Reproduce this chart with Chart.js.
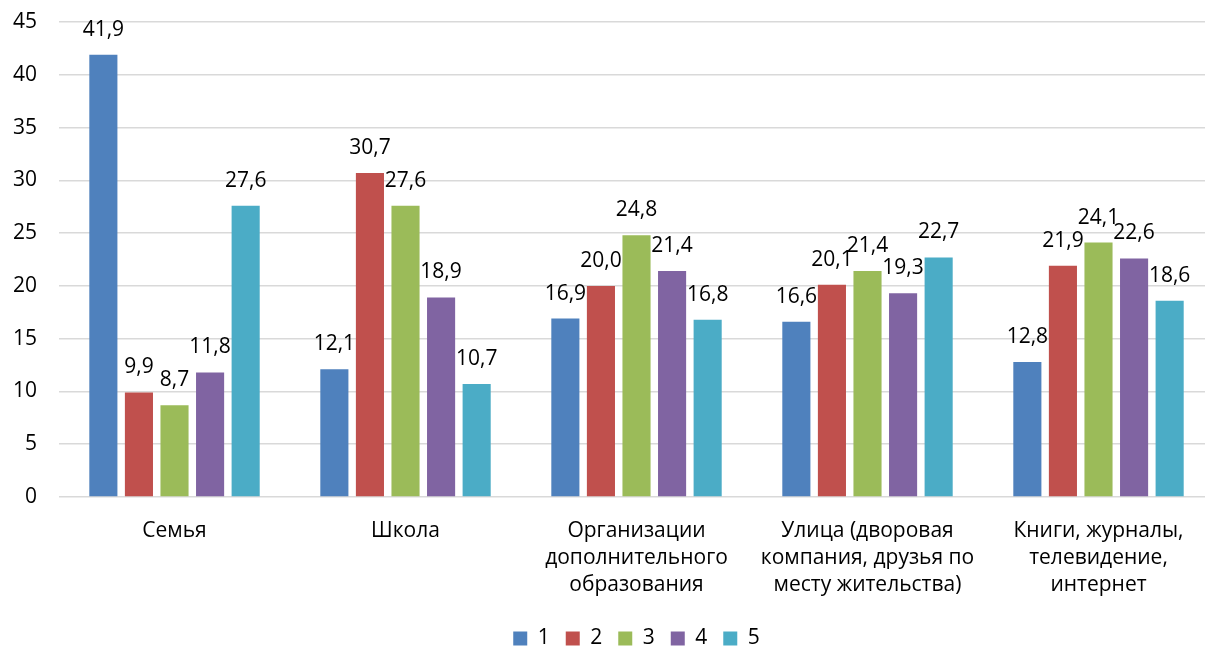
<!DOCTYPE html>
<html>
<head>
<meta charset="utf-8">
<script src="https://cdn.jsdelivr.net/npm/chart.js@4/dist/chart.umd.min.js"></script>
<style>
  html, body { margin: 0; padding: 0; background: #fff; overflow: hidden; }
  #wrap { width: 1205px; height: 655px; overflow: hidden; }
</style>
</head>
<body>
<div id="wrap"><canvas id="myChart" width="1219" height="655"></canvas></div>
<script>
var categories = [
    'Семья',
    'Школа',
    ['Организации', 'дополнительного', 'образования'],
    ['Улица (дворовая', 'компания, друзья по', 'месту жительства)'],
    ['Книги, журналы,', 'телевидение,', 'интернет']
]
var series1 = [41.9, 12.1, 16.9, 16.6, 12.8]
var series2 = [9.9, 30.7, 20.0, 20.1, 21.9]
var series3 = [8.7, 27.6, 24.8, 21.4, 24.1]
var series4 = [11.8, 18.9, 21.4, 19.3, 22.6]
var series5 = [27.6, 10.7, 16.8, 22.7, 18.6]
var seriesNames = ['1', '2', '3', '4', '5']
var colors = ['#4F81BD', '#C0504D', '#9BBB59', '#8064A2', '#4BACC6']

var FONT = "'Open Sans', 'Noto Sans', sans-serif"

// value labels above each bar, comma as decimal mark
var barLabels = {
    id: 'barLabels',
    afterDatasetsDraw: function(chart){
        var ctx = chart.ctx
        ctx.save()
        ctx.font = '21px ' + FONT
        ctx.fillStyle = '#000'
        ctx.textAlign = 'center'
        ctx.textBaseline = 'middle'
        chart.data.datasets.forEach(function(ds, i){
            var meta = chart.getDatasetMeta(i)
            meta.data.forEach(function(bar, j){
                var txt = ds.data[j].toFixed(1).replace('.', ',')
                ctx.fillText(txt, bar.x, bar.y - 25)
            })
        })
        ctx.restore()
    }
}

var all = [series1, series2, series3, series4, series5]
var datasets = all.map(function(d, i){
    return {
        label: seriesNames[i],
        data: d,
        backgroundColor: colors[i],
        barPercentage: 0.79,
        categoryPercentage: 0.77
    }
})

var myChart = document.getElementById('myChart').getContext('2d')
var chart = new Chart(myChart, {
    type: 'bar',
    data: { labels: categories, datasets: datasets },
    options: {
        responsive: false,
        animation: false,
        layout: { padding: { top: 0, right: 5, left: -9, bottom: -4 } },
        plugins: {
            legend: {
                position: 'bottom',
                fullSize: false,
                labels: {
                    boxWidth: 14,
                    boxHeight: 14,
                    padding: 16,
                    color: '#000',
                    font: { family: FONT, size: 21 }
                }
            },
            tooltip: { enabled: false }
        },
        scales: {
            x: {
                grid: { display: false },
                border: { display: false },
                ticks: {
                    color: '#000',
                    font: { family: FONT, size: 21, lineHeight: 1.286 },
                    maxRotation: 0,
                    autoSkip: false,
                    padding: 13
                }
            },
            y: {
                min: 0,
                max: 45,
                afterFit: function(scale){
                    scale.paddingTop = 22
                },
                ticks: {
                    stepSize: 5,
                    color: '#000',
                    font: { family: FONT, size: 21 },
                    padding: 22
                },
                grid: { color: '#d9d9d9', lineWidth: 1.5, drawTicks: false },
                border: { display: false }
            }
        }
    },
    plugins: [barLabels]
})
</script>
</body>
</html>
